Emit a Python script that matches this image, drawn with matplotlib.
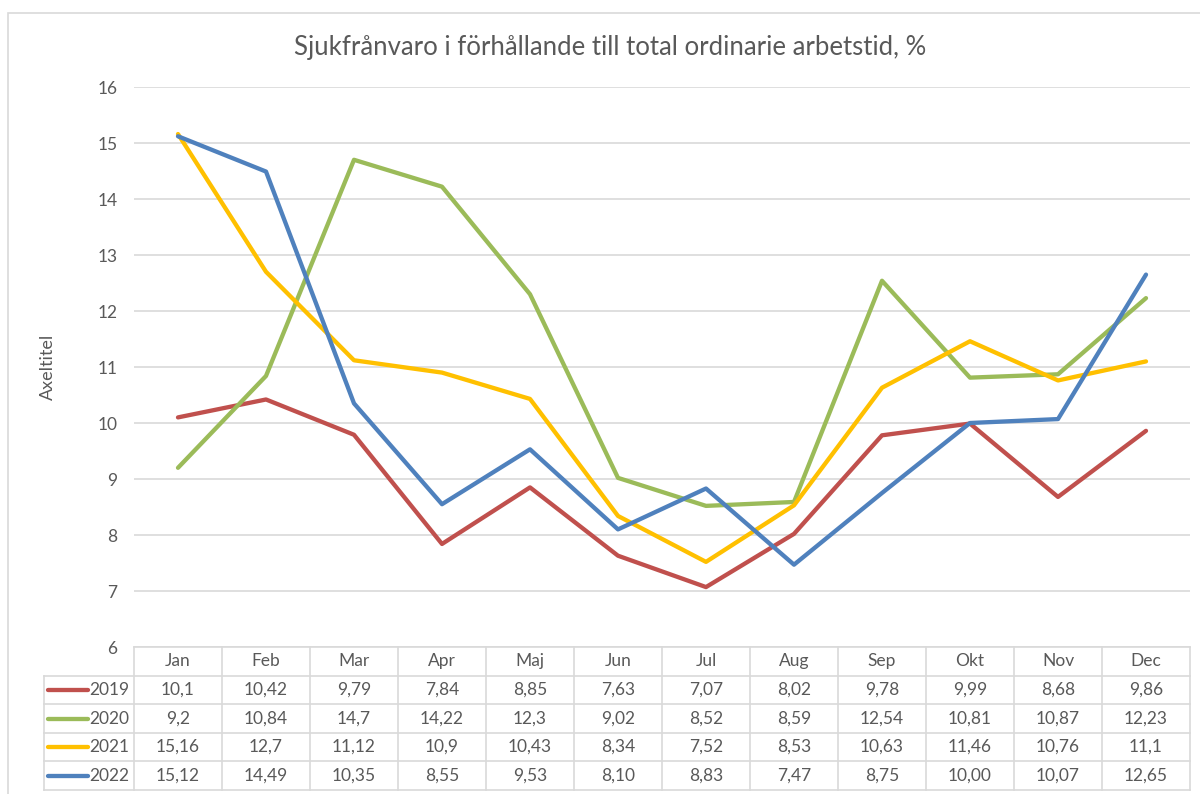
import numpy as np
import matplotlib.pyplot as plt
from matplotlib.patches import Rectangle
from matplotlib.lines import Line2D

plt.rcParams['font.family'] = ['Lato', 'DejaVu Sans']

months = ['Jan', 'Feb', 'Mar', 'Apr', 'Maj', 'Jun', 'Jul', 'Aug', 'Sep', 'Okt', 'Nov', 'Dec']
years = ['2019', '2020', '2021', '2022']
v2019 = [10.1, 10.42, 9.79, 7.84, 8.85, 7.63, 7.07, 8.02, 9.78, 9.99, 8.68, 9.86]
v2020 = [9.2, 10.84, 14.7, 14.22, 12.3, 9.02, 8.52, 8.59, 12.54, 10.81, 10.87, 12.23]
v2021 = [15.16, 12.7, 11.12, 10.9, 10.43, 8.34, 7.52, 8.53, 10.63, 11.46, 10.76, 11.1]
v2022 = [15.12, 14.49, 10.35, 8.55, 9.53, 8.10, 8.83, 7.47, 8.75, 10.00, 10.07, 12.65]
# tabellen visar texten som i Excel (svenskt decimalkomma)
t2019 = ['10,1', '10,42', '9,79', '7,84', '8,85', '7,63', '7,07', '8,02', '9,78', '9,99', '8,68', '9,86']
t2020 = ['9,2', '10,84', '14,7', '14,22', '12,3', '9,02', '8,52', '8,59', '12,54', '10,81', '10,87', '12,23']
t2021 = ['15,16', '12,7', '11,12', '10,9', '10,43', '8,34', '7,52', '8,53', '10,63', '11,46', '10,76', '11,1']
t2022 = ['15,12', '14,49', '10,35', '8,55', '9,53', '8,10', '8,83', '7,47', '8,75', '10,00', '10,07', '12,65']

series = [v2019, v2020, v2021, v2022]
texts = [t2019, t2020, t2021, t2022]
colors = ['#c0504d', '#9bbb59', '#ffc000', '#4f81bd']
grid_c = '#d9d9d9'
txt_c = '#595959'
fs = 12.5

W, H = 1200, 794
fig = plt.figure(figsize=(12, 7.94), dpi=100)

# ram runt diagrammet
fig.add_artist(Rectangle((8 / W, -0.1), 1.2, (794 - 13) / H + 0.1, transform=fig.transFigure,
                         fill=False, edgecolor=grid_c, lw=1.2))

# diagramytan: x 134..1190, y 87..647 px
L, R, T, B = 134, 1190, 87, 647
ax = fig.add_axes([L / W, (H - B) / H, (R - L) / W, (B - T) / H])
x = np.arange(len(months))
for vals, c in zip(series, colors):
    ax.plot(x, vals, color=c, lw=3.1, solid_joinstyle='round', solid_capstyle='round')
ax.set_xlim(-0.5, 11.5)
ax.set_ylim(6, 16)
ax.set_yticks(range(6, 17))
ax.grid(axis='y', color=grid_c, lw=1.2)
ax.set_axisbelow(True)
ax.set_xticks([])
for s in ax.spines.values():
    s.set_visible(False)
ax.tick_params(axis='y', length=0, pad=12, labelsize=fs, labelcolor=txt_c)
ax.set_ylabel('Axeltitel', fontsize=13, color=txt_c)
ax.yaxis.set_label_coords((56 - L) / (R - L), 0.5)

fig.text(610 / W, 1 - 47 / H, 'Sjukfrånvaro i förhållande till total ordinarie arbetstid, %',
         ha='center', va='center', fontsize=18.5, color=txt_c)

# datatabell under diagrammet
TL, TB = 44, 790
colw = (R - L) / 12
tab = fig.add_axes([TL / W, (H - TB) / H, (R - TL) / W, (TB - B) / H])
tab.set_xlim(-0.5 - (L - TL) / colw, 11.5)
tab.set_ylim(5, 0)
tab.axis('off')
lab_x0 = -0.5 - (L - TL) / colw
kw = dict(color=grid_c, lw=1.2, clip_on=False)
# horisontella linjer
tab.plot([-0.5, 11.5], [0, 0], **kw)
for r in range(1, 6):
    tab.plot([lab_x0, 11.5], [r, r], **kw)
# vertikala linjer
for k in range(13):
    tab.plot([k - 0.5, k - 0.5], [0, 5], **kw)
tab.plot([lab_x0, lab_x0], [1, 5], **kw)

for k, m in enumerate(months):
    tab.text(k, 0.5, m, ha='center', va='center', fontsize=fs, color=txt_c)
for r, (yr, tx, c) in enumerate(zip(years, texts, colors), start=1):
    tab.add_line(Line2D([lab_x0 + 0.05, lab_x0 + 0.5], [r + 0.5, r + 0.5], color=c, lw=3.1,
                        solid_capstyle='round'))
    tab.text(-0.55, r + 0.5, yr, ha='right', va='center', fontsize=fs, color=txt_c)
    for k, t in enumerate(tx):
        tab.text(k, r + 0.5, t, ha='center', va='center', fontsize=fs, color=txt_c)

fig.savefig('out.png', dpi=100)
